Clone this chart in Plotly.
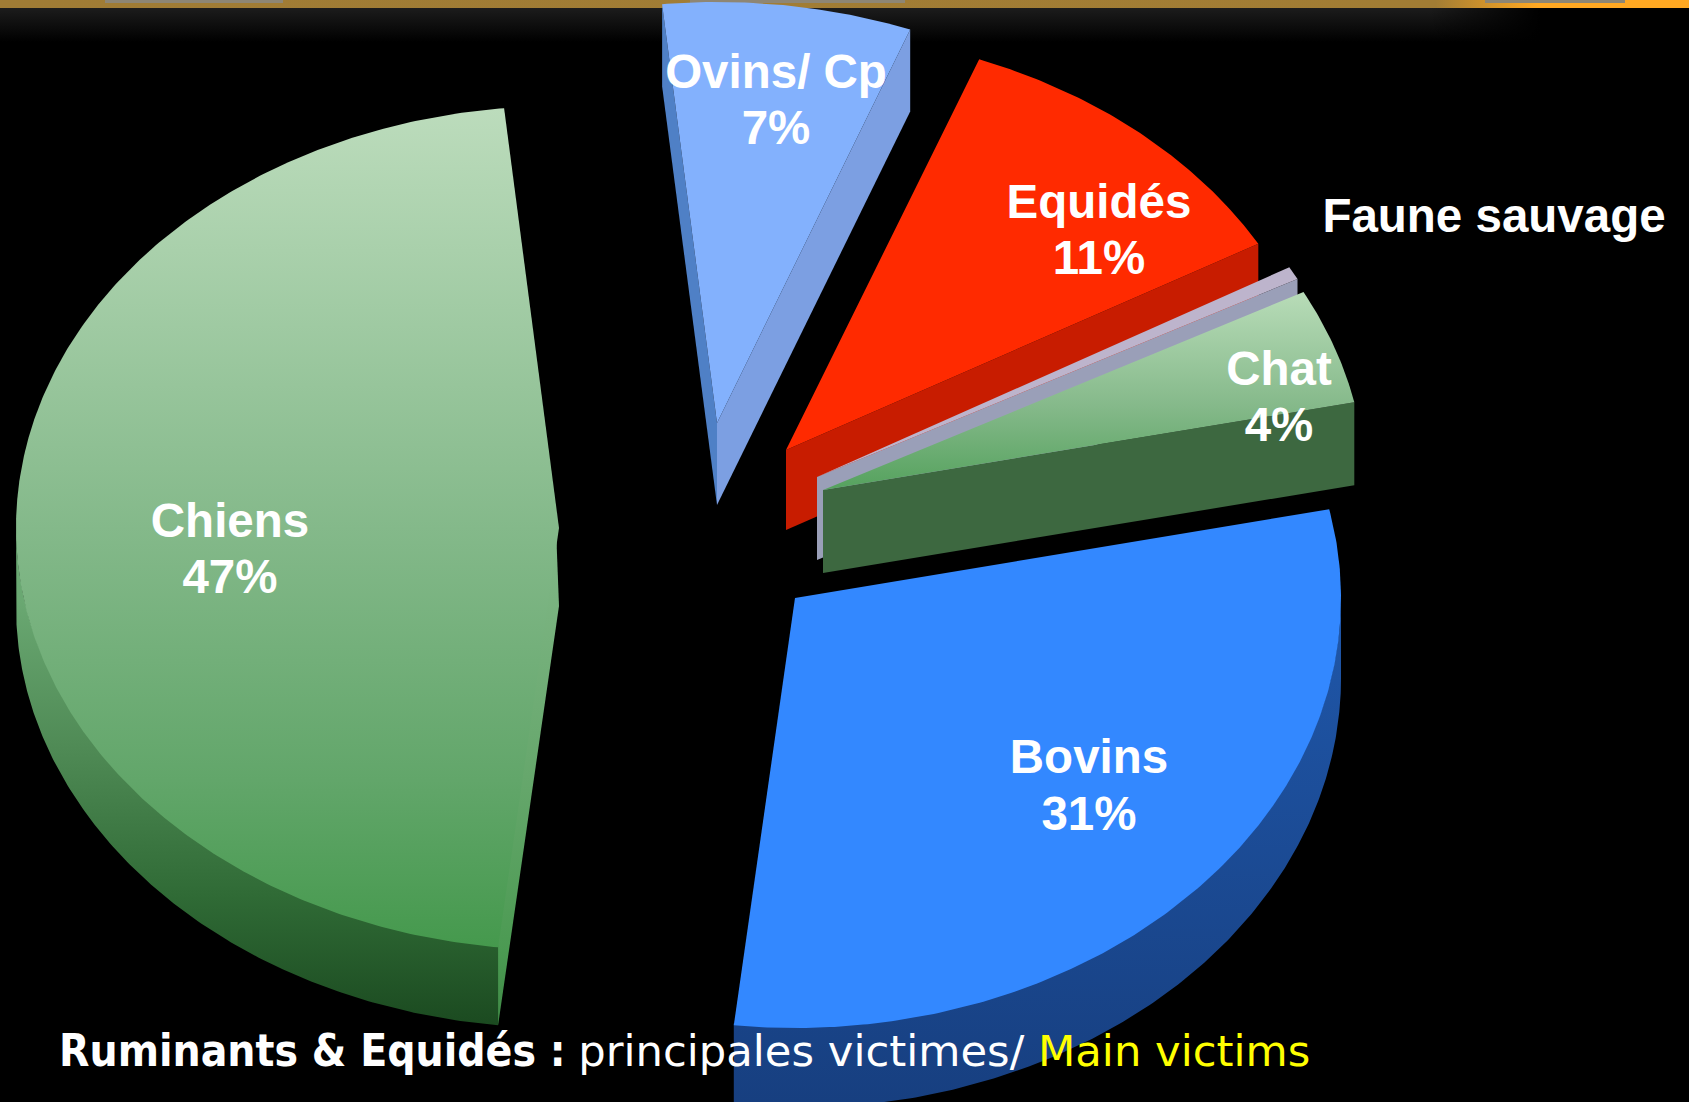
import numpy as np
import plotly.graph_objects as go

# ---- data ----
categories = ["Ovins/ Cp", "Equidés", "Faune sauvage", "Chat", "Bovins", "Chiens"]
values = [7.4, 11.0, 0.5, 4.4, 30.1, 46.6]          # slice sizes as drawn
shown_pct = ["7%", "11%", "", "4%", "31%", "47%"]   # printed labels
caption_bold = "Ruminants &amp; Equidés :"
caption_plain = "principales victimes/"
caption_yellow = "Main victims"

# ---- layout / style ----
W, H = 1689, 1102
START = -5.8
RXS = {"Ovins/ Cp": 543, "Equidés": 543, "Faune sauvage": 543, "Chat": 543, "Bovins": 546, "Chiens": 543}
RYS = {"Ovins/ Cp": 421, "Equidés": 418, "Faune sauvage": 425, "Chat": 425, "Bovins": 430, "Chiens": 422}
DEPTH = {"Ovins/ Cp": 82, "Equidés": 80, "Faune sauvage": 83, "Chat": 83, "Bovins": 80, "Chiens": 78}
APEX = {"Ovins/ Cp": (717, 423), "Equidés": (786, 450), "Faune sauvage": (817, 477),
        "Chat": (823, 490), "Bovins": (795, 598), "Chiens": (559, 528)}
NAME_XY = {"Ovins/ Cp": (776, 76), "Equidés": (1099, 206), "Faune sauvage": (1494, 220),
           "Chat": (1279, 373), "Bovins": (1089, 761), "Chiens": (230, 525)}
PCT_XY = {"Ovins/ Cp": (776, 132), "Equidés": (1099, 262), "Chat": (1279, 429),
          "Bovins": (1089, 818), "Chiens": (230, 581)}
FACE = {"Ovins/ Cp": "#83b1fd", "Equidés": "#ff2a00", "Faune sauvage": "#bdb4cc",
        "Chat": None, "Bovins": "#3388ff", "Chiens": None}
FACE_GRAD = {
    "Chiens": (108, 948, [[0, "#bcdcbc"], [0.5, "#84b98a"], [0.8, "#62a66a"], [1, "#45994d"]]),
    "Chat": (292, 500, [[0, "#b8dcb8"], [0.55, "#85b98a"], [1, "#4f9f58"]]),
}
WALL_GRAD = {
    "Chiens": (600, 1026, [[0, "#6aa872"], [0.35, "#4f8a55"], [0.7, "#2f6a35"], [1, "#1b4a20"]]),
    "Bovins": (620, 1102, [[0, "#1f56a8"], [1, "#173f80"]]),
}
WALL = {"Ovins/ Cp": "#7c9fe2", "Equidés": "#c81c00", "Faune sauvage": "#9a9fb8",
        "Chat": "#3d6840", "Bovins": "#1c4f9f", "Chiens": "#36703c"}
START_CUT = {"Ovins/ Cp": "#4f80c6", "Chiens": "#62a66a"}
START_CUT_GRAD = {"Chiens": (528, 1026, [[0, "#82b888"], [0.5, "#66a76c"], [0.85, "#4b9a52"], [1, "#3f8a46"]])}
CUT_TUCK = {"Ovins/ Cp": 0, "Chiens": 3}   # how far a cut slides under its own top face
END_CUT = {"Ovins/ Cp": "#7c9fe2", "Equidés": "#c81c00", "Faune sauvage": "#9a9fb8", "Chat": "#3d6840"}
DRAW_ORDER = ["Chiens", "Bovins", "Ovins/ Cp", "Equidés", "Faune sauvage", "Chat"]

total = sum(values)
edges = START + np.concatenate([[0], np.cumsum(values)]) * 360.0 / total
ANGLES = {c: (edges[i], edges[i + 1]) for i, c in enumerate(categories)}


def arc(name, t0, t1, dy=0.0):
    ax, ay = APEX[name]
    t = np.radians(np.linspace(t0, t1, max(int(abs(t1 - t0) * 2), 2)))
    return ax + RXS[name] * np.sin(t), ay - RYS[name] * np.cos(t) + dy


def poly(x, y, color=None, grad=None, kind="vertical"):
    kw = dict(x=np.round(x, 1), y=np.round(y, 1), mode="lines", fill="toself", line=dict(width=0),
              hoverinfo="skip", showlegend=False)
    if grad:
        s, e, cs = grad
        kw["fillgradient"] = dict(type=kind, colorscale=cs, start=s, stop=e)
        kw["fillcolor"] = "rgba(0,0,0,0)"
    else:
        kw["fillcolor"] = color
    return go.Scatter(**kw)


fig = go.Figure()

# top strip, then the dark band beneath it (fading out on the right)
fig.add_trace(poly(np.array([0, W, W, 0]), np.array([0, 0, 8, 8]),
                   grad=(0, W, [[0, "#a07c35"], [0.85, "#a27d34"], [0.91, "#ffa822"], [1, "#ffa822"]]),
                   kind="horizontal"))
for a, b in [(105, 283), (690, 905), (1485, 1625)]:
    fig.add_trace(poly(np.array([a, b, b, a]), np.array([0, 0, 3, 3]), "#8e8674"))
fig.add_trace(poly(np.array([0, W, W, 0]), np.array([8, 8, 42, 42]),
                   grad=(8, 42, [[0, "#1c1c1c"], [1, "#000000"]])))
fig.add_trace(poly(np.array([1430, W, W, 1430]), np.array([8, 8, 42, 42]),
                   grad=(1430, 1540, [[0, "rgba(0,0,0,0)"], [1, "rgba(0,0,0,1)"]]), kind="horizontal"))

for name in DRAW_ORDER:
    t0, t1 = ANGLES[name]
    ax, ay = APEX[name]
    d = DEPTH[name]
    # cut faces
    if name in START_CUT:
        x0, y0 = arc(name, t0, t0 + 0.001)
        tuck = CUT_TUCK[name]
        fig.add_trace(poly(np.array([ax - tuck, x0[0] - tuck, x0[0], ax]),
                           np.array([ay, y0[0], y0[0] + d, ay + d]),
                           START_CUT[name], START_CUT_GRAD.get(name)))
    if name in END_CUT:
        x1, y1 = arc(name, t1, t1 + 0.001)
        fig.add_trace(poly(np.array([ax, x1[0], x1[0], ax]), np.array([ay, y1[0], y1[0] + d, ay + d]),
                           END_CUT[name]))
    # outer rim, only where it turns to the viewer (upper edge tucked under the top face)
    lo, hi = max(t0, 90), min(t1, 270)
    if lo < hi:
        xa, ya = arc(name, lo, hi, -2)
        xb, yb = arc(name, hi, lo, d)
        fig.add_trace(poly(np.concatenate([xa, xb]), np.concatenate([ya, yb]),
                           WALL[name], WALL_GRAD.get(name)))
    # top face
    xa, ya = arc(name, t0, t1)
    fig.add_trace(poly(np.concatenate([[ax], xa]), np.concatenate([[ay], ya]),
                       FACE[name], FACE_GRAD.get(name)))

# labels
label_font = dict(family="Liberation Sans", size=47.5, color="#ffffff")
names_in = list(NAME_XY)
fig.add_trace(go.Scatter(x=[NAME_XY[c][0] for c in names_in], y=[NAME_XY[c][1] for c in names_in],
                         text=[f"<b>{c}</b>" for c in names_in], mode="text",
                         textposition="middle center", textfont=label_font,
                         hoverinfo="skip", showlegend=False))
pct_in = [c for c, p in zip(categories, shown_pct) if p]
fig.add_trace(go.Scatter(x=[PCT_XY[c][0] for c in pct_in], y=[PCT_XY[c][1] for c in pct_in],
                         text=[f"<b>{p}</b>" for p in shown_pct if p], mode="text",
                         textposition="middle center", textfont=label_font,
                         hoverinfo="skip", showlegend=False))

fig.add_annotation(
    x=57, y=1050, xref="x", yref="y", xanchor="left", yanchor="middle", showarrow=False,
    text=(f"<b>{caption_bold}</b> "
          f"<span style='font-family:\"DejaVu Sans\";font-size:43.3px'>{caption_plain} "
          f"<span style='color:#ffff00'>{caption_yellow}</span></span>"),
    font=dict(family="DejaVu Sans Condensed, DejaVu Sans", size=44, color="#ffffff"),
)

fig.update_layout(
    width=W, height=H, margin=dict(l=0, r=0, t=0, b=0), autosize=False,
    paper_bgcolor="#000000", plot_bgcolor="#000000",
    xaxis=dict(range=[0, W], visible=False, fixedrange=True),
    yaxis=dict(range=[H, 0], visible=False, fixedrange=True),
)
fig.write_html("out.html", config={"displayModeBar": False},
               post_script="document.body.style.margin='0';document.body.style.background='#000';")
